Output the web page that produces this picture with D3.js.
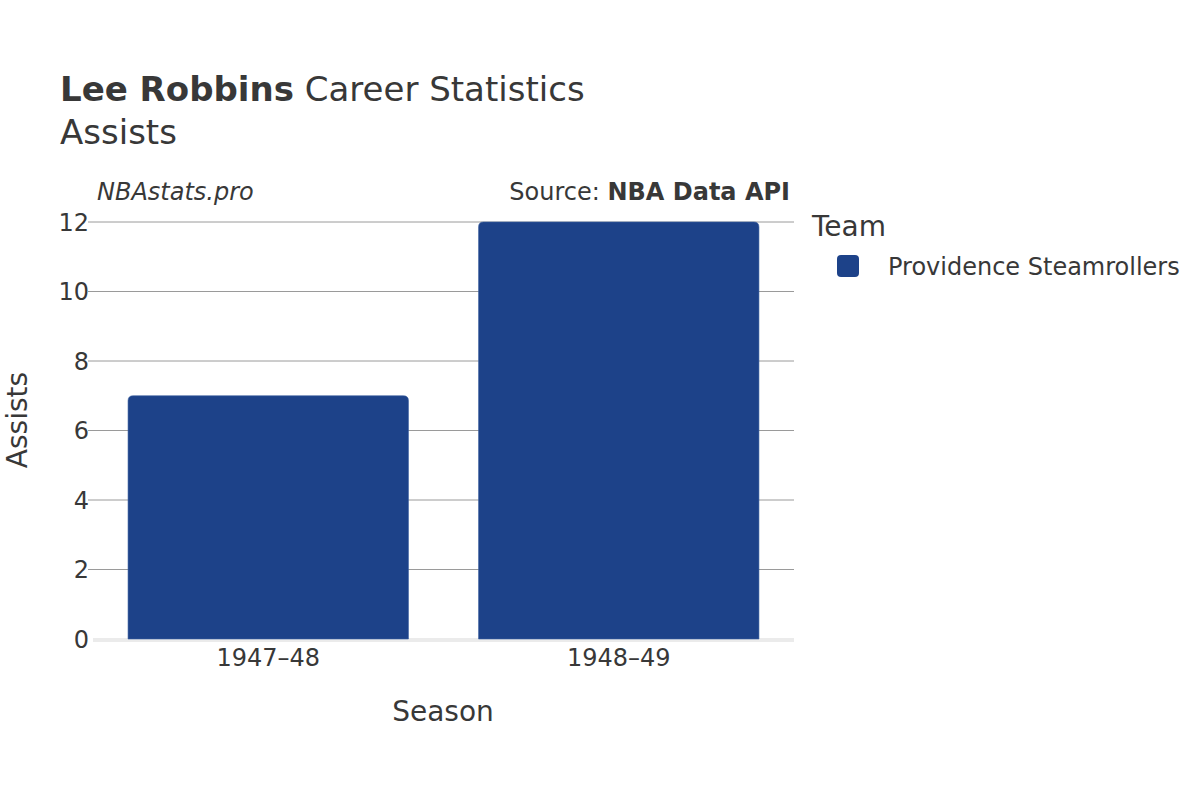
<!DOCTYPE html>
<html><head><meta charset="utf-8">
<script src="https://cdn.jsdelivr.net/npm/d3@7"></script>
<style>body{margin:0;background:#fff;} text{font-family:"DejaVu Sans",sans-serif;fill:#383838;}</style>
</head><body>
<svg id="c" width="1200" height="800"></svg>
<script>
const seasons = ["1947\u201348", "1948\u201349"];
const assists = [7, 12];
const yTicks = [0, 2, 4, 6, 8, 10, 12];
const teams = ["Providence Steamrollers"];
const teamColors = ["#1d4289"];

const svg = d3.select("#c");
const m = {l: 93, r: 794, t: 222, b: 639};
const x = d3.scaleBand().domain(seasons).range([m.l, m.r]).paddingInner(0.2).paddingOuter(0.1);
const y = d3.scaleLinear().domain([0, 12]).range([m.b, m.t]);

// grid
svg.append("g").selectAll("line").data(yTicks.filter(d => d > 0)).join("line")
  .attr("x1", m.l - 5).attr("x2", m.r).attr("y1", d => y(d)).attr("y2", d => y(d))
  .attr("stroke", "#9a9a9a").attr("stroke-width", 1);
svg.append("line").attr("x1", m.l).attr("x2", m.r).attr("y1", y(0) + 1).attr("y2", y(0) + 1)
  .attr("stroke", "#ebebeb").attr("stroke-width", 4);

// y tick labels
svg.append("g").selectAll("text").data(yTicks).join("text")
  .attr("x", m.l - 4).attr("y", d => y(d)).attr("dy", "0.36em").attr("text-anchor", "end")
  .attr("font-size", 24).text(d => d);

// bars with rounded top
const r = 5;
svg.append("g").selectAll("path").data(seasons).join("path")
  .attr("d", (s, i) => {
    const x0 = x(s), x1 = x(s) + x.bandwidth(), yt = y(assists[i]), yb = y(0);
    return `M${x0},${yb}V${yt + r}Q${x0},${yt} ${x0 + r},${yt}H${x1 - r}Q${x1},${yt} ${x1},${yt + r}V${yb}Z`;
  })
  .attr("fill", teamColors[0]).attr("stroke", "#3a5fa0").attr("stroke-width", 0.6);

// x tick labels
svg.append("g").selectAll("text").data(seasons).join("text")
  .attr("x", s => x(s) + x.bandwidth() / 2).attr("y", 666).attr("text-anchor", "middle")
  .attr("font-size", 24).text(s => s);

// axis titles
svg.append("text").attr("x", 443).attr("y", 721).attr("text-anchor", "middle").attr("font-size", 28).text("Season");
svg.append("text").attr("transform", "translate(27,420) rotate(-90)").attr("text-anchor", "middle").attr("font-size", 28).text("Assists");

// title
const t = svg.append("text").attr("x", 60).attr("y", 101).attr("font-size", 34);
t.append("tspan").attr("font-weight", "bold").text("Lee Robbins");
t.append("tspan").text(" Career Statistics");
svg.append("text").attr("x", 60).attr("y", 144).attr("font-size", 34).text("Assists");

// subtitles
svg.append("text").attr("x", 97).attr("y", 200).attr("font-size", 24).attr("font-style", "italic").text("NBAstats.pro");
const s2 = svg.append("text").attr("x", 790).attr("y", 200).attr("font-size", 24).attr("text-anchor", "end");
s2.append("tspan").text("Source: ");
s2.append("tspan").attr("font-weight", "bold").text("NBA Data API");

// legend
svg.append("text").attr("x", 812).attr("y", 236).attr("font-size", 28).text("Team");
const lg = svg.append("g").selectAll("g").data(teams).join("g");
lg.append("rect").attr("x", 837).attr("y", (d, i) => 255 + i * 30).attr("width", 22).attr("height", 22)
  .attr("rx", 4).attr("fill", (d, i) => teamColors[i]);
lg.append("text").attr("x", 888).attr("y", (d, i) => 275 + i * 30).attr("font-size", 24).text(d => d);
</script>
</body></html>
